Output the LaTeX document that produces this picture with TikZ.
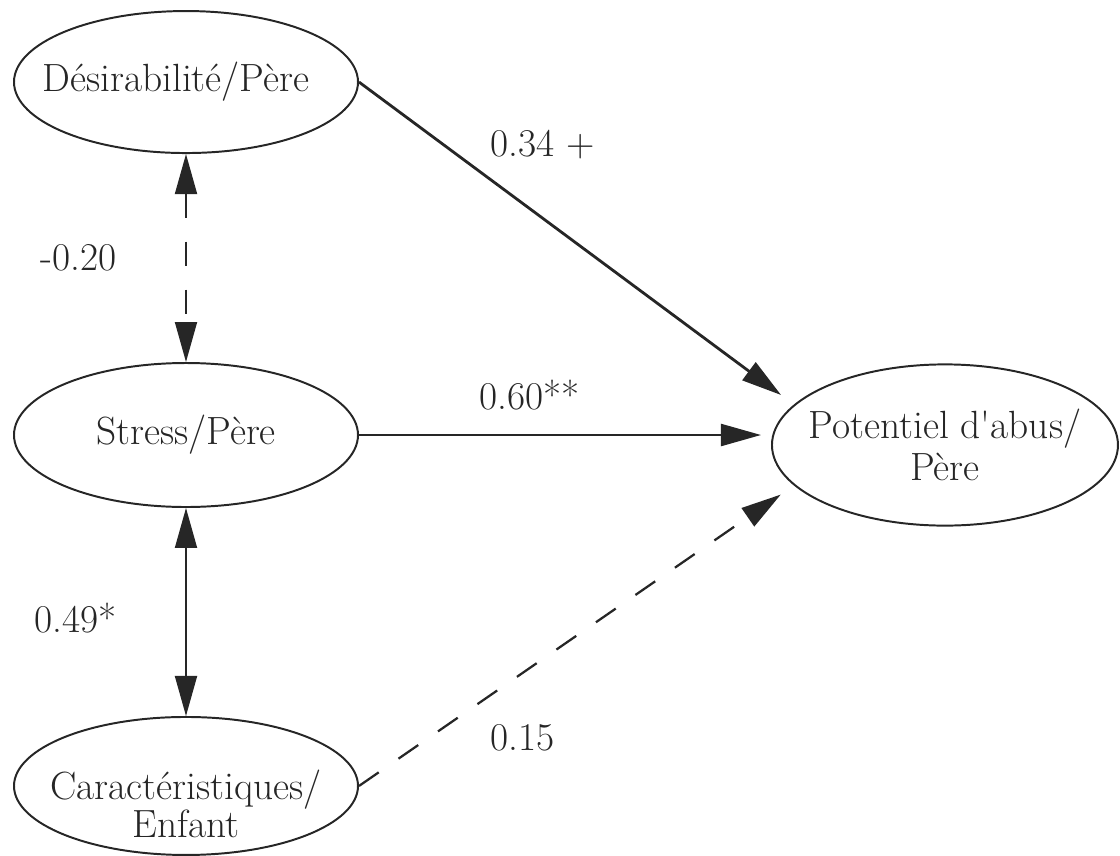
\documentclass[tikz,border=0pt]{standalone}
\usetikzlibrary{arrows.meta,positioning,shapes.geometric}

\begin{document}
\begin{tikzpicture}[
    every node/.style={font=\fontsize{28}{30}\selectfont, text=black!85},
    every label/.style={align=center},
    oval/.style={draw=black!85, ellipse, line width=1.4pt, minimum width=8.6cm, minimum height=3.6cm},
    coef/.style={inner sep=0pt},
    >={Triangle[length=1cm, width=0.55cm]},
    link/.style={->, draw=black!85, line width=1.6pt},
    both/.style={<->, draw=black!85, line width=1.3pt},
    dashes/.style={dash pattern=on 0.6cm off 0.6cm}
]
\useasboundingbox (-4.65,-10.5) rectangle (23.35,10.875);
\node[oval, label={center:Stress/Père}] (stress) at (0,0) {};
\node[oval, minimum height=3.55cm, above=5.2cm of stress,
      label={[xshift=-0.25cm]center:Désirabilité/Père}] (desir) {};
\node[oval, minimum height=3.45cm, below=5.2cm of stress,
      label={[yshift=-0.45cm, font=\fontsize{28}{21}\selectfont]center:Caractéristiques/\\Enfant}] (caract) {};
\node[oval, minimum width=8.65cm, minimum height=4.03cm, right=10.3cm of stress, yshift=-0.25cm,
      label={center:Potentiel d\textquotesingle abus/\\Père}] (pot) {};

\draw[both, dashes] (desir) -- node[coef, left=1.72cm] {-0.20} (stress);
\draw[both] (stress) -- node[coef, pos=0.53, left=1.72cm] {0.49*} (caract);
\draw[link, line width=2pt, shorten >=0.4cm] (desir.east) -- node[coef, pos=0.3, above right=0.45cm and 0cm] {0.34 +} (pot.165);
\draw[link, shorten >=0.25cm] (stress.east) -- node[coef, pos=0.415, above=0.6cm] {0.60**} (stress.east -| pot.west);
\draw[link, dashes, shorten >=0.4cm] (caract.east) -- node[coef, pos=0.3, below right=0.68cm and 0cm] {0.15} (pot.195);
\end{tikzpicture}
\end{document}
